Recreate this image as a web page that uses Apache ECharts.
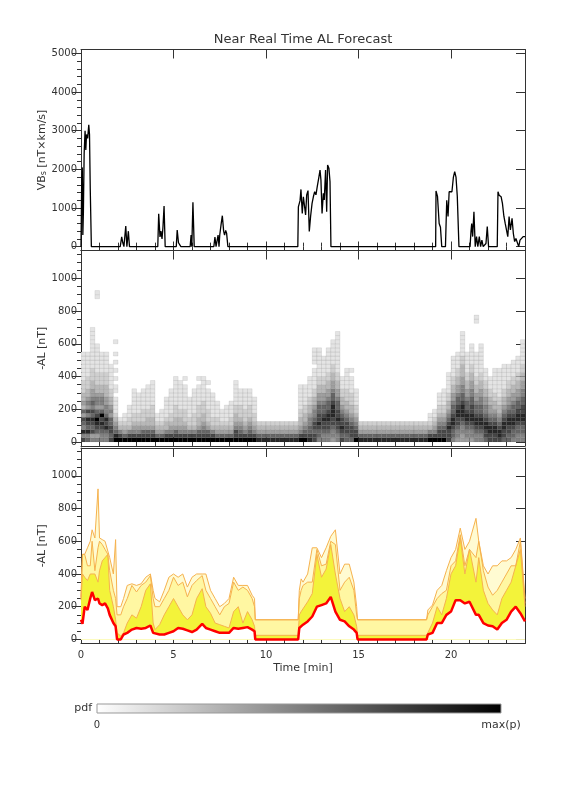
<!DOCTYPE html>
<html><head><meta charset="utf-8">
<script src="https://cdn.jsdelivr.net/npm/echarts@6/dist/echarts.min.js"></script>
<style>html,body{margin:0;padding:0;background:#fff}#c{width:576px;height:792px}</style>
</head><body><div id="c"></div>
<script>
// ---------------- DATA ----------------
const vbsT = [0,0.04,0.07,0.10,0.13,0.17,0.22,0.26,0.30,0.36,0.42,0.46,0.50,0.56,
  2.12,2.20,2.26,2.32,2.38,2.42,2.48,2.53,2.56,2.62,2.88,2.92,2.96,3.45,3.50,3.54,
  4.15,4.20,4.27,4.32,4.38,4.43,4.49,4.55,5.15,5.20,5.27,5.35,5.40,5.90,5.95,5.99,6.05,6.12,
  7.18,7.24,7.30,7.37,7.41,7.46,7.50,7.58,7.64,7.71,7.76,7.82,7.87,7.94,
  11.72,11.75,11.84,11.89,11.96,12.02,12.07,12.14,12.20,12.27,12.34,12.41,12.49,12.56,12.63,12.70,
  12.77,12.85,12.92,12.97,13.03,13.10,13.15,13.22,13.28,13.33,13.40,13.46,13.51,
  18.65,18.68,18.71,19.17,19.19,19.27,19.36,19.43,19.50,19.70,19.77,19.84,19.90,19.98,20.05,20.13,
  20.20,20.27,20.34,20.43,20.50,20.60,20.70,20.85,21.03,21.08,21.12,21.17,21.24,21.31,21.38,21.45,
  21.53,21.60,21.67,21.74,21.89,21.96,22.03,22.50,22.54,22.60,22.71,22.78,22.86,22.93,23.00,23.07,
  23.14,23.21,23.30,23.37,23.44,23.51,23.58,23.66,23.73,23.82,23.90,24.00];
const vbsV = [0,1800,2050,300,900,2400,3000,2500,2900,2800,3150,2900,1500,0,
  0,250,100,0,0,530,0,0,400,0,0,30,0,0,40,0,
  0,850,250,400,200,500,1050,0,0,430,100,100,0,0,300,0,1150,0,
  0,250,0,0,300,0,300,600,800,400,300,420,350,0,
  0,1030,1190,1480,860,1290,1320,820,1340,1450,390,780,1120,1290,1420,1340,
  1550,1770,1980,1720,860,1380,1210,1980,900,2110,2030,1680,0,
  0,30,0,0,1440,1300,600,500,0,0,1200,780,1420,1450,1420,1800,
  1940,1800,1300,0,40,0,40,0,0,390,600,260,900,0,260,0,
  260,0,170,0,80,520,0,0,1420,1330,1290,1120,780,600,600,260,
  780,430,730,340,130,210,170,0,170,210,260,260];

const alT = [0,0.08,0.20,0.35,0.50,0.60,0.75,0.92,1.00,1.15,1.30,1.45,1.55,1.75,1.87,1.95,2.15,2.30,2.50,2.75,
  3.00,3.25,3.50,3.75,3.90,4.00,4.25,4.50,4.75,5.00,5.25,5.50,5.75,6.00,6.25,6.55,6.75,7.00,7.25,7.50,
  7.75,8.00,8.25,8.50,8.75,9.00,9.25,9.38,9.42,11.74,11.80,11.90,12.00,12.25,12.50,12.75,13.00,13.25,13.50,13.75,
  14.00,14.25,14.50,14.75,14.90,14.95,18.68,18.75,19.00,19.25,19.50,19.75,20.00,20.25,20.50,20.75,21.00,21.35,21.50,21.75,
  22.00,22.25,22.50,22.75,23.00,23.25,23.50,23.75,24.00];
const alRed = [120,95,200,180,250,290,240,250,220,210,220,190,150,100,80,0,0,30,40,60,
  70,65,70,85,40,30,30,30,40,50,70,65,55,45,60,95,70,60,50,40,
  40,40,70,65,70,75,60,50,0,0,70,80,90,110,140,200,210,220,260,170,
  120,110,80,60,40,0,0,30,40,100,100,150,170,240,240,220,230,150,150,100,
  85,80,60,100,120,170,200,160,110];
const alMid = [240,400,380,360,400,400,400,350,420,480,500,520,300,200,120,40,20,40,100,150,
  130,200,300,340,100,60,90,150,200,250,200,150,120,150,250,310,200,160,100,90,
  80,70,170,200,100,170,120,80,25,25,150,170,170,230,280,520,380,430,580,400,
  250,170,200,150,80,25,25,30,100,200,150,250,400,450,620,400,550,350,500,300,
  220,180,150,250,300,350,450,550,200];
const alHigh = [250,520,520,450,450,600,420,560,600,580,550,520,420,300,250,150,150,200,250,330,
  290,330,350,390,250,200,200,250,300,380,330,350,260,330,360,390,300,250,200,150,
  200,220,350,300,320,300,250,200,120,120,250,300,330,350,350,550,450,460,600,580,
  300,350,380,300,150,120,120,150,200,250,280,300,450,480,640,450,550,500,600,420,
  320,270,300,350,400,450,450,600,220];
const alTop = [260,520,520,560,600,670,620,920,620,610,600,540,500,400,610,200,200,250,330,340,
  330,340,380,400,300,250,230,300,380,400,380,400,320,380,400,400,400,300,250,200,
  220,250,380,330,330,330,270,250,120,120,300,370,350,400,560,560,500,560,630,670,
  400,460,460,350,200,120,120,180,210,300,330,420,500,550,680,550,600,740,600,450,
  400,450,450,480,480,500,550,620,250];

// probability map: one string per time column, one digit (0-9) per AL bin from 0 nT upward
const pdfColStep = 0.25;   // minutes per column
const pdfBin = 25;         // nT per bin
const pdfColumns = [
  "7585674634332221111111","6586785745433222111111","5476786756544332221111111111",
  "5467897645543322211111110000000000011","5567879645543322211111","5568786554433322211111",
  "7677664543322111111","9865432111101101010101001","975321","9643211","975322111","9754322111111",
  "975432211111","9764322211111","97643322111111","976433222111111","9643211","96432111",
  "97533211111","9754322111111","9764332221111111","975433221111111","9754322211111101","97532211111",
  "9753222111111","9764332221111101","9765433222111111","976432221111101","975322111111","9643221111",
  "96432111","964321111","9643221111","977543322111111","9765432221111","9754322211111",
  "9765432221111","97543221111",
  "86432","86432","86432","86432","86432","86432","86432","86432","86432",
  "97543322111111","97654332211111","8766554332211111","77677655433221111101111","56678776654433221111111",
  "556778766544332211111","55677887665443322111111","4556778887665443322111111","556778776654433221111111111",
  "7678776543322111","667776543322211111","677765433222111101","9776543221111",
  "86432","86432","86432","86432","86432","86432","86432","86432","86432","86432","86432","86432","86432","86432","86432",
  "9753211","97543211","977654322111","9776543221111","77787654332211111","566788766544332211111",
  "4556778876654433221111","445567888766554433322111111","4556788766544332211111","455678877665544332211111",
  "5567887665443322111111000000011","556788766554433221111111","677887655443322111","7788765443322111",
  "778876543322111111","788765433221111111","6778876543322111111","6677887654433221111",
  "56678876654433221111","556678876654433221111","5566788776655443322111111"
];

const timeTicks = [0,5,10,15,20];
const vbsTicks = [0,1000,2000,3000,4000,5000];
const alTicks = [0,200,400,600,800,1000];

// ---------------- BUILD ----------------
const FONT = 'DejaVu Sans';
const AX = '#333';
const TXT = '#333';
function minors(step, from, to, majorStep){ const r=[]; for(let v=from; v<=to+1e-9; v+=step){ if(Math.abs(v/majorStep-Math.round(v/majorStep))>1e-6) r.push(+v.toFixed(4)); } return r; }
const timeMinor = minors(1, 1, 23, 5);
const vbsMinor = minors(200, 200, 5000, 1000);
const alMinor = minors(50, 50, 1150, 200);

const pdfData = [];
pdfColumns.forEach((s, c) => {
  for (let i = 0; i < s.length; i++) {
    const k = +s[i];
    if (k > 0) pdfData.push([c * pdfColStep, i * pdfBin, k]);
  }
});

const rects = [
  {left:81, width:444, top:49.5, height:201},
  {left:81, width:444, top:250.5, height:195.5},
  {left:81, width:444, top:448, height:195.5}
];
// main grids 0-2 carry major ticks, grids 3-5 (same rectangles) carry minor ticks
const grids = rects.concat(rects.map(r => Object.assign({}, r)));
const yRanges = [[-100,5100],[-25,1170],[-25,1170]];
const yMajors = [vbsTicks, alTicks, alTicks];
const yMinors = [vbsMinor, alMinor, alMinor];
const LEFT_INSIDE = false; // left-side ticks point into the plot with this setting in this renderer

const xAxes = [], yAxes = [];
const lineStyle = {color:AX, width:1};
const fmt = v => String(v);
rects.forEach((g, gi) => {
  const xb = {type:'value', gridIndex:gi, min:0, max:24, splitLine:{show:false}};
  const last = gi === 2;
  xAxes.push(Object.assign({}, xb, {position:'bottom',
    axisLine:{show:true, onZero:false, lineStyle},
    axisTick:{show:true, inside:true, length:9, customValues:timeTicks, lineStyle},
    axisLabel:{show:last, customValues:timeTicks, formatter:fmt, margin:7, color:TXT, fontFamily:FONT, fontSize:10},
    name: last ? 'Time [min]' : '', nameLocation:'middle', nameGap:19, nameMoveOverlap:false,
    nameTextStyle:{color:TXT, fontFamily:FONT, fontSize:11}}));
  xAxes.push(Object.assign({}, xb, {position:'top', axisLine:{show:true, onZero:false, lineStyle},
    axisTick:{show:true, inside:true, length:9, customValues:timeTicks, lineStyle}, axisLabel:{show:false}}));

  const yb = {type:'value', gridIndex:gi, min:yRanges[gi][0], max:yRanges[gi][1], splitLine:{show:false}};
  const yname = gi === 0 ? 'VB{s|s} [nT×km/s]' : '-AL [nT]';
  yAxes.push(Object.assign({}, yb, {position:'left',
    axisLine:{show:true, onZero:false, lineStyle},
    axisTick:{show:true, inside:LEFT_INSIDE, length:9, customValues:yMajors[gi], lineStyle},
    axisLabel:{show:true, inside:false, customValues:yMajors[gi], formatter:fmt, margin:4, color:TXT, fontFamily:FONT, fontSize:10},
    name:yname, nameLocation:'middle', nameGap:33, nameMoveOverlap:false,
    nameTextStyle:{color:TXT, fontFamily:FONT, fontSize:11,
      rich:{s:{fontSize:8, fontFamily:FONT, color:TXT, padding:[4,0,0,0]}}}}));
  yAxes.push(Object.assign({}, yb, {position:'right', axisLine:{show:true, onZero:false, lineStyle},
    axisTick:{show:true, inside:true, length:9, customValues:yMajors[gi], lineStyle}, axisLabel:{show:false}}));
});
rects.forEach((g, gi) => {
  const gidx = gi + 3;
  const xb = {type:'value', gridIndex:gidx, min:0, max:24, splitLine:{show:false}, axisLine:{show:false}, axisLabel:{show:false}};
  xAxes.push(Object.assign({}, xb, {position:'bottom', axisTick:{show:true, inside:true, length:4, customValues:timeMinor, lineStyle}}));
  xAxes.push(Object.assign({}, xb, {position:'top', axisTick:{show:true, inside:true, length:4, customValues:timeMinor, lineStyle}}));
  const yb = {type:'value', gridIndex:gidx, min:yRanges[gi][0], max:yRanges[gi][1], splitLine:{show:false}, axisLine:{show:false}, axisLabel:{show:false}};
  yAxes.push(Object.assign({}, yb, {position:'left', axisTick:{show:true, inside:LEFT_INSIDE, length:4, customValues:yMinors[gi], lineStyle}}));
  yAxes.push(Object.assign({}, yb, {position:'right', axisTick:{show:true, inside:true, length:4, customValues:yMinors[gi], lineStyle}}));
});

const pair = arr => alT.map((t, i) => [t, arr[i]]);
const ORANGE = '#f6b24e';

function renderPdf(params, api) {
  const t = api.value(0), v = api.value(1);
  const a = api.coord([t, v + pdfBin]);
  const b = api.coord([t + pdfColStep, v]);
  return {type:'rect', shape:{x:a[0], y:a[1], width:b[0]-a[0], height:b[1]-a[1]},
    style:{fill:api.visual('color'), stroke:'rgba(0,0,0,0.12)', lineWidth:0.6}};
}

const chart = echarts.init(document.getElementById('c'), null, {renderer:'canvas'});
chart.setOption({
  animation:false,
  backgroundColor:'#fff',
  grid: grids,
  xAxis: xAxes,
  yAxis: yAxes,
  visualMap: {show:false, type:'continuous', seriesIndex:1, dimension:2, min:0, max:9,
    inRange:{color:['#ffffff','#e4e4e4','#cfcfcf','#b8b8b8','#9e9e9e','#838383','#666666','#484848','#282828','#000000']}},
  graphic: [
    {type:'text', x:303, y:40, style:{text:'Near Real Time AL Forecast', fill:TXT, font:'13px "DejaVu Sans"', textAlign:'center', textVerticalAlign:'middle'}},
    {type:'rect', shape:{x:97, y:704, width:404, height:9},
      style:{fill:new echarts.graphic.LinearGradient(0,0,1,0,[{offset:0,color:'#ffffff'},{offset:1,color:'#000000'}]), stroke:'#999', lineWidth:1}},
    {type:'text', x:92, y:708, style:{text:'pdf', fill:TXT, font:'11px "DejaVu Sans"', textAlign:'right', textVerticalAlign:'middle'}},
    {type:'text', x:97, y:725, style:{text:'0', fill:TXT, font:'10px "DejaVu Sans"', textAlign:'center', textVerticalAlign:'middle'}},
    {type:'text', x:501, y:725, style:{text:'max(p)', fill:TXT, font:'11px "DejaVu Sans"', textAlign:'center', textVerticalAlign:'middle'}}
  ],
  series: [
    {type:'line', xAxisIndex:0, yAxisIndex:0, data:vbsT.map((t,i)=>[t, vbsV[i]]), showSymbol:false,
      lineStyle:{color:'#000', width:1.3}, clip:true},
    {type:'custom', xAxisIndex:2, yAxisIndex:2, data:pdfData, renderItem:renderPdf, clip:true},
    {type:'line', xAxisIndex:4, yAxisIndex:4, data:pair(alTop), showSymbol:false,
      lineStyle:{color:ORANGE, width:1}, areaStyle:{color:'#fffbd2', opacity:1}},
    {type:'line', xAxisIndex:4, yAxisIndex:4, data:pair(alHigh), showSymbol:false,
      lineStyle:{color:ORANGE, width:1}, areaStyle:{color:'#fff7a2', opacity:1}},
    {type:'line', xAxisIndex:4, yAxisIndex:4, data:pair(alMid), showSymbol:false,
      lineStyle:{color:ORANGE, width:1}, areaStyle:{color:'#f3f33a', opacity:1}},
    {type:'line', xAxisIndex:4, yAxisIndex:4, data:pair(alRed), showSymbol:false,
      lineStyle:{color:'#ff0000', width:2.5}, areaStyle:{color:'#ffffff', opacity:1}}
  ]
});
</script>
</body></html>
